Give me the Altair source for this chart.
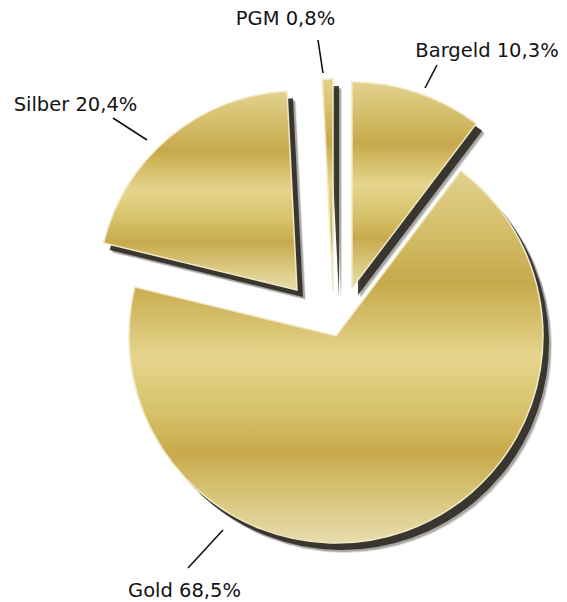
import math
import altair as alt
import pandas as pd

# ---- data ----
categories = ["Bargeld", "Gold", "Silber", "PGM"]
values = [10.3, 68.5, 20.4, 0.8]
label_texts = ["Bargeld 10,3%", "Gold 68,5%", "Silber 20,4%", "PGM 0,8%"]

df = pd.DataFrame({"cat": categories, "value": values, "label": label_texts})
df["end"] = df["value"].cumsum()
df["start"] = df["end"] - df["value"]

# ---- styling (positions of exploded slice centres, radii, annotations) ----
OFF = 8  # page margin
slice_geom = {
    "Bargeld": (352, 288, 206),
    "Gold": (336, 336, 207),
    "Silber": (297, 290, 199),
    "PGM": (333, 290, 211),
}
label_pos = {
    "PGM": (285.5, 25),
    "Bargeld": (487, 57),
    "Silber": (75.5, 111),
    "Gold": (184.5, 597),
}
leader = {
    "PGM": ((318, 40), (323, 73)),
    "Bargeld": ((437, 65), (425, 88)),
    "Silber": ((113, 118), (147, 140)),
    "Gold": ((223, 530), (188, 568)),
}

gold_fill = alt.LinearGradient(
    gradient="linear",
    x1=0, x2=0, y1=0, y2=1,
    stops=[
        alt.GradientStop(offset=0.00, color="#e2d28e"),
        alt.GradientStop(offset=0.12, color="#d8c373"),
        alt.GradientStop(offset=0.30, color="#c7a94c"),
        alt.GradientStop(offset=0.50, color="#e5d58c"),
        alt.GradientStop(offset=0.62, color="#dac671"),
        alt.GradientStop(offset=0.76, color="#c8aa4d"),
        alt.GradientStop(offset=0.90, color="#dccb84"),
        alt.GradientStop(offset=1.00, color="#e8ddac"),
    ],
)

theta_scale = alt.Scale(domain=[0, 100], range=[0, 2 * math.pi])


def arc_layer(cat, fill, dx=0, dy=0, opacity=1.0, stroke=None):
    cx, cy, r = slice_geom[cat]
    kw = dict(radius=r, fill=fill, opacity=opacity)
    if stroke is not None:
        kw.update(stroke=stroke, strokeWidth=1.5)
    return (
        alt.Chart(df)
        .transform_filter(alt.datum.cat == cat)
        .mark_arc(**kw)
        .encode(
            theta=alt.Theta("start:Q", scale=theta_scale),
            theta2="end:Q",
            x=alt.value(cx - OFF + dx),
            y=alt.value(cy - OFF + dy),
        )
    )


layers = []
# soft shadows
for cat in categories:
    layers.append(arc_layer(cat, "#2a2820", dx=9, dy=10, opacity=0.15))
    layers.append(arc_layer(cat, "#2a2820", dx=8, dy=9, opacity=0.3))
    layers.append(arc_layer(cat, "#2c2a22", dx=6, dy=7, opacity=0.9))
# slices
for cat in categories:
    layers.append(arc_layer(cat, gold_fill, stroke="#f1e9c4"))

# leader lines
for cat in categories:
    (x1, y1), (x2, y2) = leader[cat]
    layers.append(
        alt.Chart(df)
        .transform_filter(alt.datum.cat == cat)
        .mark_rule(color="#111111", strokeWidth=1.6)
        .encode(
            x=alt.value(x1 - OFF), y=alt.value(y1 - OFF),
            x2=alt.value(x2 - OFF), y2=alt.value(y2 - OFF),
        )
    )

# labels
for cat in categories:
    lx, ly = label_pos[cat]
    layers.append(
        alt.Chart(df)
        .transform_filter(alt.datum.cat == cat)
        .mark_text(
            font="DejaVu Sans", fontSize=19.5, color="#141414",
            align="center", baseline="alphabetic",
        )
        .encode(text="label:N", x=alt.value(lx - OFF), y=alt.value(ly - OFF))
    )

chart = (
    alt.layer(*layers)
    .properties(width=551, height=594, padding=0, autosize="none", background="white")
    .configure_view(stroke=None)
)

chart.save("out.html", embed_options={"renderer": "svg", "actions": False})
